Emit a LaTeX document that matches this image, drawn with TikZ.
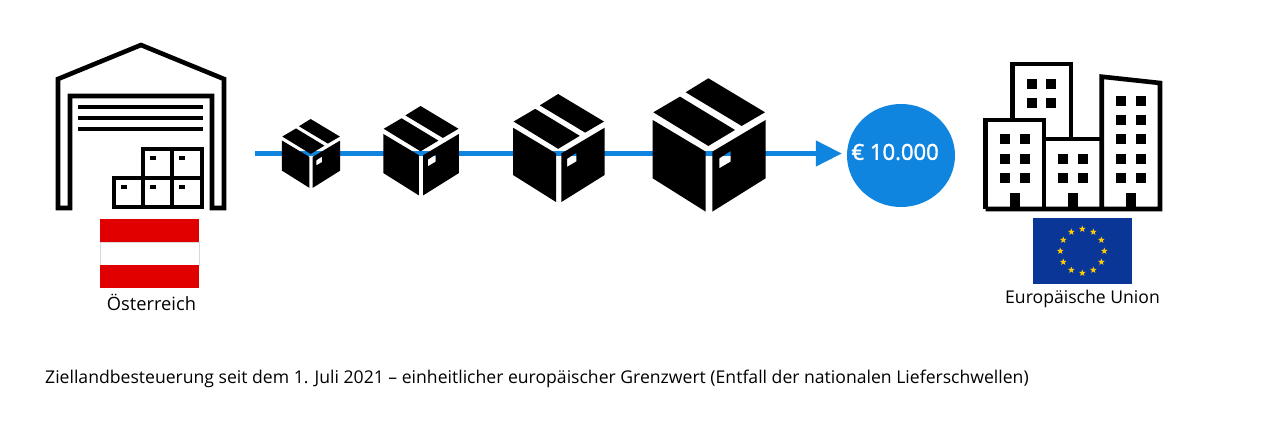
\documentclass[tikz,border=0pt]{standalone}
\usepackage{fontspec}
\setmainfont{Open Sans}
\usepackage{tikz}
\usetikzlibrary{arrows.meta,shapes.geometric,calc}
\definecolor{flowblue}{HTML}{1085E0}
\definecolor{atred}{HTML}{E00000}
\definecolor{eublue}{HTML}{0A3797}
\definecolor{eugold}{HTML}{FFCC00}
\tikzset{
  outline/.style={draw=black,line width=4.6pt,miter limit=10},
  flow/.style={draw=flowblue,line width=4.5pt,shorten >=5pt,-{Triangle[length=26pt,width=25pt]}},
  caption/.style={inner sep=0pt,text=black,font=\fontsize{17.6}{20}\selectfont},
  eustar/.style={star,star points=5,star point ratio=2.4,fill=eugold,inner sep=0pt,minimum size=7pt}
}
\newcommand{\parcel}[2]{
  \begin{scope}[shift={(#1)},scale=#2]
    \fill (-167,102) -- (-87,55) -- (78,155) -- (-2,203) -- cycle;
    \fill (-70,42) -- (-2,0) -- (168,102) -- (98,143) -- cycle;
    \fill (-169,125) -- (-10,220) -- (-10,400) -- (-169,300) -- cycle;
    \fill[even odd rule] (10,220) -- (170,125) -- (170,300) -- (10,400) -- cycle
          (31,240) -- (65,218) -- (65,250) -- (31,270) -- cycle;
  \end{scope}
}
\begin{document}
\begin{tikzpicture}[x=1pt,y=-1pt]
  \useasboundingbox (0,0) rectangle (1280,431);
  \fill[white] (0,0) rectangle (1280,431);
  % warehouse
  \draw[outline] (58,208) -- (58,79) -- (141,45) -- (224,79) -- (224,208) -- (212,208)
        -- (212,96) -- (70,96) -- (70,208) -- cycle;
  \foreach \y in {107,118,129}
    \fill (78,\y-2.2) rectangle (203,\y+2.2);
  \draw[outline] (143,207) |- (202,149) -- (202,207) -- (114,207) |- (202,178)
        (172,149) -- (172,207) (143,178) -- (143,207);
  \foreach \x/\y in {153/158,182/158,124/187,153/187,182/187}
    \fill (\x-3,\y-1.7) rectangle (\x+3,\y+1.7);
  % flag
  \fill[atred] (100,219) rectangle (199,242);
  \draw[gray!30,line width=.5pt] (100,242) rectangle (199,265);
  \fill[atred] (100,265) rectangle (199,288);
  \node[caption,font=\fontsize{18.3}{20}\selectfont] (austria) at (151.5,302.5) {Österreich};
  % flow and parcels
  \node[ellipse,fill=flowblue,minimum width=108pt,minimum height=103pt,inner sep=0pt] (amount) at (901,155.5) {};
  \node[inner sep=0pt,text=white,font=\fontsize{22}{24}\selectfont\addfontfeature{FakeBold=1.6}] (amountlabel) at (895,152) {€ 10.000};
  \coordinate (linestart) at (255,153.5);
  \draw[flow] (linestart) -- (linestart-|amount.west);
  \parcel{311,119}{.172};
  \parcel{421,106}{.2233};
  \parcel{558.7,94}{.27};
  \parcel{709,78.3}{.3333};
  % buildings
  \draw[outline] (1012.7,120) |- (1071,64) -- (1071,139);
  \draw[outline] (985.7,209) |- (1044,120) -- (1044,209);
  \draw[outline] (1044,139) -- (1101.7,139);
  \draw[outline] (1101.7,209) -- (1101.7,76.7) -- (1160,83) -- (1160,209) -- (985.7,209) -- cycle;
  \foreach \x in {1031.7,1051}
    \foreach \y in {83.7,103.3}
      \fill (\x-5,\y-5) rectangle (\x+5,\y+5);
  \foreach \x in {1005.3,1024.7}
    \foreach \y in {139.3,158.7,178}
      \fill (\x-5,\y-5) rectangle (\x+5,\y+5);
  \foreach \x in {1063.3,1082.7}
    \foreach \y in {158.7,178}
      \fill (\x-5,\y-5) rectangle (\x+5,\y+5);
  \foreach \x in {1121.3,1140.7}
    \foreach \y in {100.7,120,139.3,158.7,178}
      \fill (\x-5,\y-5) rectangle (\x+5,\y+5);
  \foreach \x in {1015,1073,1131}
    \fill (\x-5,192.7) rectangle (\x+5,209);
  % eu flag
  \fill[eublue] (1033,217.7) rectangle (1132,283.7);
  \foreach \a in {0,30,...,330}
    \node[eustar] (star\a) at ($(1082.3,251)+(\a:22 and -22)$) {};
  \node[caption] (union) at (1082.5,298.5) {Europäische Union};
  % caption
  \node[caption,anchor=west] (note) at (45,378.5) {Ziellandbesteuerung seit dem 1. Juli 2021 – einheitlicher europäischer Grenzwert (Entfall der nationalen Lieferschwellen)};
\end{tikzpicture}
\end{document}
